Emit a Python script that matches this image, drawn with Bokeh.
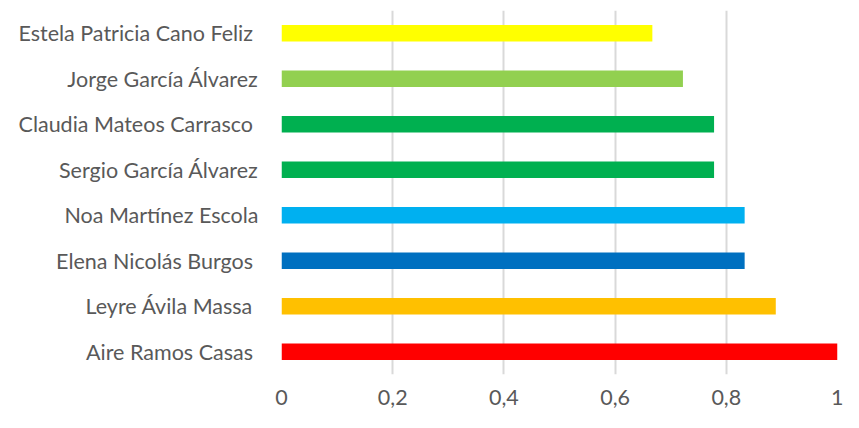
from bokeh.plotting import figure
from bokeh.models import ColumnDataSource, FixedTicker, FactorRange
from bokeh.embed import file_html
from bokeh.resources import INLINE

# Data (bottom to top)
names = ["Aire Ramos Casas ", "Leyre Ávila Massa ", "Elena Nicolás Burgos ",
         "Noa Martínez Escola", "Sergio García Álvarez", "Claudia Mateos Carrasco ",
         "Jorge García Álvarez", "Estela Patricia Cano Feliz "]
values = [1.0, 0.889, 0.833, 0.833, 0.778, 0.778, 0.722, 0.667]
colors = ["#FF0000", "#FFC000", "#0070C0", "#00B0F0", "#00B050", "#00B050",
          "#92D050", "#FFFF00"]
tick_values = [0, 0.2, 0.4, 0.6, 0.8, 1.0]
tick_labels = ["0", "0,2", "0,4", "0,6", "0,8", "1"]

source = ColumnDataSource(dict(name=names, value=values, color=colors))

FONT = "Lato"
TEXT_COLOR = "#595959"

p = figure(y_range=FactorRange(factors=names), x_range=(0, 1),
           frame_width=556, frame_height=364,
           min_border_left=281, min_border_right=6, min_border_top=10, min_border_bottom=38,
           output_backend="svg", toolbar_location=None)

p.hbar(y="name", right="value", left=0, height=0.36, color="color",
       line_color=None, source=source)

p.outline_line_color = None
p.background_fill_color = "white"
p.border_fill_color = "white"

p.xaxis.ticker = FixedTicker(ticks=tick_values)
p.xaxis.major_label_overrides = {v: l for v, l in zip(tick_values, tick_labels)}
p.xaxis.axis_line_color = None
p.xaxis.major_tick_line_color = None
p.xaxis.minor_tick_line_color = None
p.xaxis.major_label_text_font = FONT
p.xaxis.major_label_text_font_size = "21.5px"
p.xaxis.major_label_text_color = TEXT_COLOR
p.xaxis.major_label_standoff = 9

p.yaxis.axis_line_color = None
p.yaxis.major_tick_line_color = None
p.yaxis.minor_tick_line_color = None
p.yaxis.major_label_text_font = FONT
p.yaxis.major_label_text_font_size = "21.5px"
p.yaxis.major_label_text_color = TEXT_COLOR
p.yaxis.major_label_standoff = 17

p.xgrid.grid_line_color = "#d9d9d9"
p.xgrid.grid_line_width = 2
p.ygrid.grid_line_color = None

open("out.html", "w").write(file_html(p, INLINE))
